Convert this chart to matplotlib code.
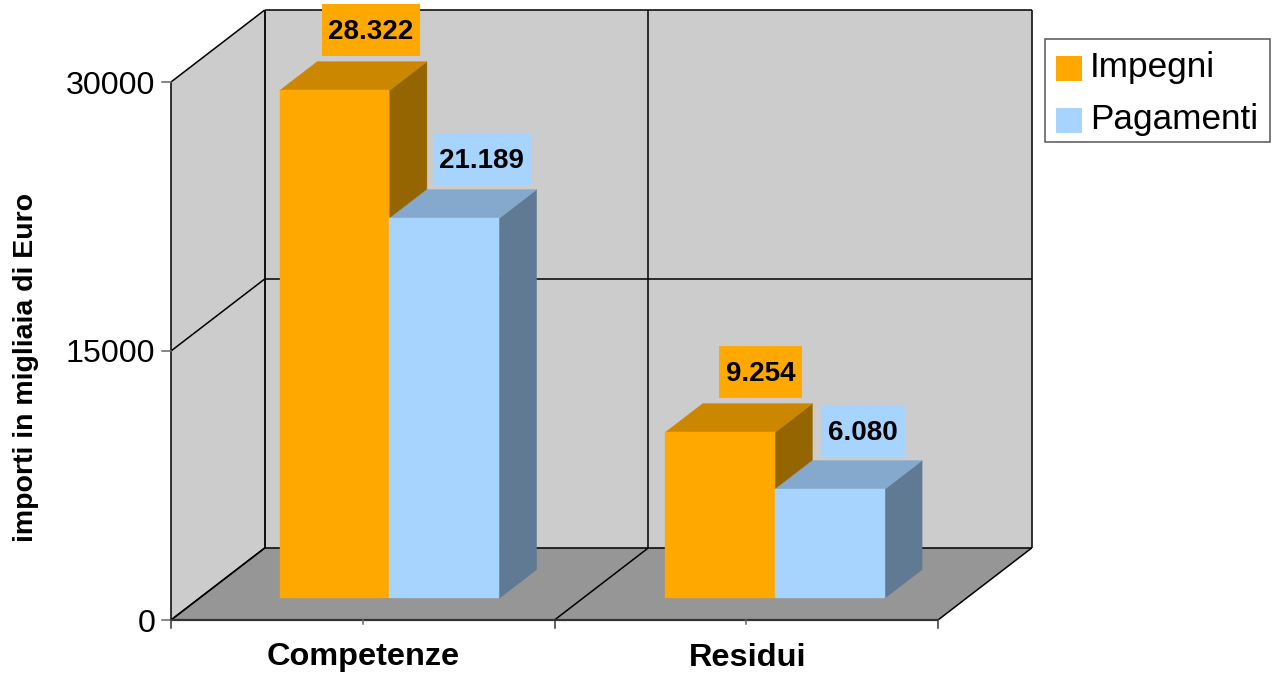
import matplotlib
matplotlib.use('Agg')
import matplotlib.pyplot as plt
from matplotlib.legend_handler import HandlerPatch
from matplotlib.patches import Rectangle
from matplotlib.transforms import IdentityTransform

plt.rcParams['font.family'] = ['Liberation Sans', 'DejaVu Sans']

categories = ['Competenze', 'Residui']
series_names = ['Impegni', 'Pagamenti']
impegni = [28322, 9254]
pagamenti = [21189, 6080]
impegni_labels = ['28.322', '9.254']
pagamenti_labels = ['21.189', '6.080']
y_ticks = [0, 15000, 30000]
y_label = 'importi in migliaia di Euro'

WALL = '#CCCCCC'
FLOOR = '#969696'
# front, top, side
ORANGE = ('#FFA900', '#CC8700', '#946500')
BLUE = ('#A6D4FF', '#85A9CC', '#607A94')

W, H = 1279, 675
X0, X_UNIT = 171, 383.5   # pixel of category 0 edge, pixels per category
Y0, Y_TOP = 620, 82       # pixel of value 0 and of value 30000
YMAX = 30000
V_PX = YMAX / (Y0 - Y_TOP)

# offset of the back wall from the front plane
DX = 93.7 / X_UNIT
DY = 72 * V_PX

BAR_W = 109.7 / X_UNIT
GAP = 80.6 / X_UNIT
CAT_NUDGE = 2 / X_UNIT   # second group of bars sits a bit further right
D0, D1 = 0.30, 0.70      # depth of bars

# label shift from the centre of the bar's back edge, pixels (series, category)
LABEL_SHIFT = [[(-1, 33), (3, 33)], [(0, 32), (-4, 31)]]
BOX_PAD_X, BOX_H, BOX_UP = 6.5, 52, 2


def proj(c, v, d=0.0):
    return c + d * DX, v + d * DY


def face(ax, pts, color, z):
    xs, ys = zip(*[proj(*p) for p in pts])
    ax.fill(xs, ys, facecolor=color, edgecolor=color, linewidth=0.3, zorder=z)


def line(ax, a, b, color='black', lw=1.1, z=2):
    xs, ys = zip(proj(*a), proj(*b))
    ax.plot(xs, ys, color=color, lw=lw, zorder=z, solid_capstyle='butt')


def legend_square(legend, orig_handle, xdescent, ydescent, width, height, fontsize):
    # squares sit a little below the text baseline
    return Rectangle((xdescent, ydescent - 3.0), width, height)


fig = plt.figure(figsize=(W / 100, H / 100), dpi=100)
ax = fig.add_axes([0, 0, 1, 1])
ax.set_xlim(-X0 / X_UNIT, (W - X0) / X_UNIT)
ax.set_ylim((Y0 - H) * V_PX, Y0 * V_PX)
ax.axis('off')

n = len(categories)

# walls and floor
face(ax, [(0, 0, 1), (n, 0, 1), (n, YMAX, 1), (0, YMAX, 1)], WALL, 1)
face(ax, [(0, 0, 0), (0, 0, 1), (0, YMAX, 1), (0, YMAX, 0)], WALL, 1)
face(ax, [(0, 0, 0), (n, 0, 0), (n, 0, 1), (0, 0, 1)], FLOOR, 1)

# grid
for v in y_ticks:
    line(ax, (0, v, 0), (0, v, 1))
    line(ax, (0, v, 1), (n, v, 1))
line(ax, (0, 0, 0), (0, YMAX, 0))
line(ax, (0, 0, 1), (0, YMAX, 1), lw=1.3)
for i in range(n + 1):
    line(ax, (i, 0, 0), (i, 0, 1))
    if i > 0:
        line(ax, (i, 0, 1), (i, YMAX, 1))
line(ax, (0, 0, 0), (n, 0, 0), color='#333333', lw=1.6, z=2)

# ticks
for v in y_ticks:
    ax.plot([-9 / X_UNIT, 0], [v, v], color='#666666', lw=1.1, zorder=2)
    ax.text(-15.5 / X_UNIT, v, str(v), ha='right', va='center_baseline', fontsize=23.2, color='black')
for i in range(n + 1):
    ax.plot([i, i], [0, -8 * V_PX], color='#333333', lw=1.1, zorder=2)
for i in range(n):
    ax.plot([i + 0.5, i + 0.5], [0, -4 * V_PX], color='#666666', lw=1.1, zorder=2)
    ax.text(i + 0.5 + i * CAT_NUDGE / 2, -34 * V_PX, categories[i], ha='center', va='center_baseline',
            fontsize=23.4, fontweight='bold')

ax.text(26 / X_UNIT + ax.get_xlim()[0], (Y0 - 367) * V_PX, y_label, rotation=90,
        ha='center', va='center', fontsize=20.5, fontweight='bold')

# bars
handles = []
renderer = fig.canvas.get_renderer()
for s, (values, labels, colors) in enumerate([(impegni, impegni_labels, ORANGE),
                                              (pagamenti, pagamenti_labels, BLUE)]):
    front, top, side = colors
    handles.append(Rectangle((0, 0), 1, 1, facecolor=front, edgecolor='none'))
    for i, v in enumerate(values):
        x0 = i + i * CAT_NUDGE + GAP + s * BAR_W
        x1 = x0 + BAR_W
        face(ax, [(x1, 0, D0), (x1, 0, D1), (x1, v, D1), (x1, v, D0)], side, 3 + s)
        face(ax, [(x0, v, D0), (x1, v, D0), (x1, v, D1), (x0, v, D1)], top, 3 + s)
        face(ax, [(x0, 0, D0), (x1, 0, D0), (x1, v, D0), (x0, v, D0)], front, 3 + s)
        lx, ly = proj((x0 + x1) / 2, v, D1)
        t = ax.annotate(labels[i], (lx, ly), xytext=LABEL_SHIFT[s][i], textcoords='offset pixels',
                        ha='center', va='center_baseline', fontsize=20, fontweight='bold', zorder=7)
        # box behind the label: taller than the text, so not a bbox with one pad
        ext = t.get_window_extent(renderer)
        cy = (ext.y0 + ext.y1) / 2 + BOX_UP
        ax.add_patch(Rectangle((ext.x0 - BOX_PAD_X, cy - BOX_H / 2), ext.width + 2 * BOX_PAD_X, BOX_H,
                               facecolor=front, edgecolor='none', transform=IdentityTransform(),
                               zorder=6, clip_on=False))

# legend frame has uneven padding in the reference, so it is drawn apart
fig.add_artist(Rectangle((1045, H - 142), 225, 103, facecolor='white', edgecolor='#555555',
                         linewidth=1.1, transform=IdentityTransform()))
leg = fig.legend(handles, series_names, loc='upper left',
                 bbox_to_anchor=(1056 / W, 1 - 51.5 / H), borderaxespad=0, borderpad=0,
                 fontsize=25.3, frameon=False, handlelength=0.74, handleheight=0.74,
                 handletextpad=0.22, labelspacing=0.54,
                 handler_map={Rectangle: HandlerPatch(patch_func=legend_square)})

fig.savefig('out.png', dpi=100)
